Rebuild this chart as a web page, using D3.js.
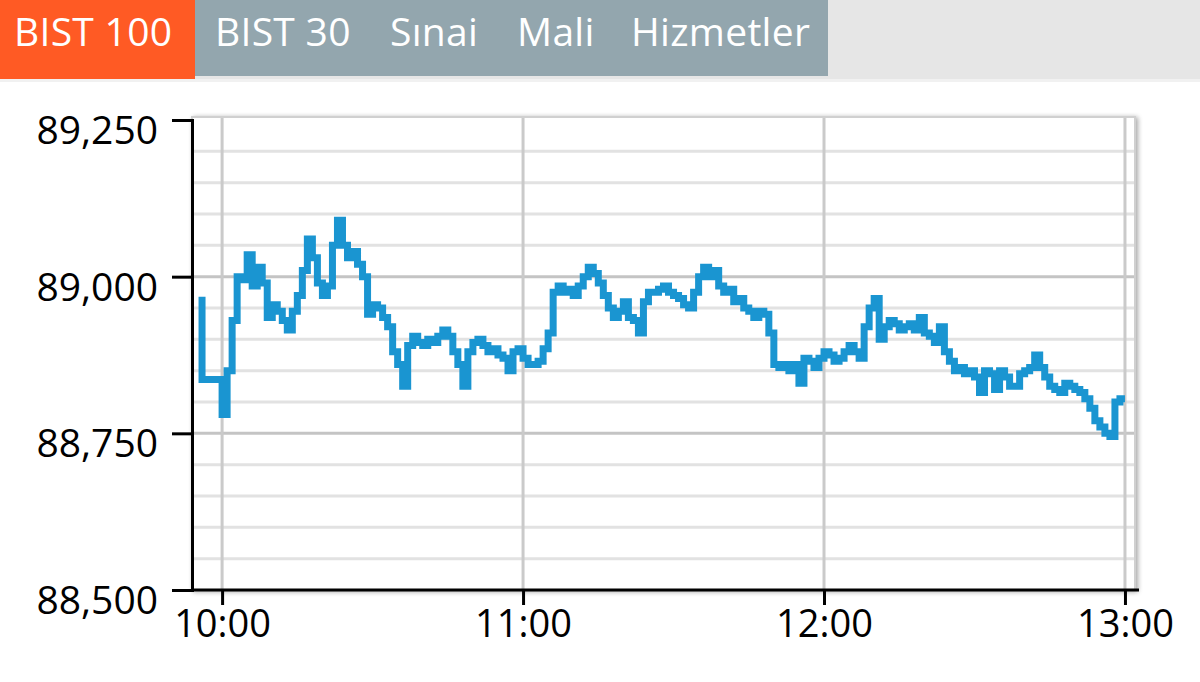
<!DOCTYPE html>
<html><head><meta charset="utf-8">
<script src="https://cdn.jsdelivr.net/npm/d3@7"></script>
<style>
html,body{margin:0;padding:0;background:#fff;}
svg{display:block;}
</style></head>
<body>
<svg id="chart" width="1200" height="682"></svg>
<script>
// ---- data ----
const tabs = ["BIST 100", "BIST 30", "Sınai", "Mali", "Hizmetler"];
const activeTab = "BIST 100";
const yTicks = [88500, 88750, 89000, 89250];
const yGrid = [88550, 88600, 88650, 88700, 88750, 88800, 88850, 88900, 88950, 89000, 89050, 89100, 89150, 89200];
const xTicks = ["10:00", "11:00", "12:00", "13:00"];
const xDomain = ["09:54", "13:02"];
const startTime = "09:56";
const values = [
  88968, 88836, 88836, 88836, 88836, 88780, 88850, 88930, 89000, 88995,
  89035, 88985, 89015, 88990, 88935, 88955, 88945, 88930, 88915, 88945,
  88970, 89010, 89060, 89030, 88990, 88970, 88985, 89050, 89090, 89050,
  89030, 89040, 89020, 89000, 88940, 88955, 88950, 88935, 88920, 88880,
  88860, 88825, 88890, 88905, 88895, 88890, 88900, 88895, 88905, 88915,
  88905, 88880, 88860, 88825, 88880, 88895, 88900, 88890, 88880, 88885,
  88875, 88870, 88850, 88880, 88885, 88870, 88860, 88860, 88865, 88885,
  88910, 88975, 88985, 88975, 88980, 88970, 88985, 89000, 89015, 89005,
  88990, 88970, 88950, 88935, 88945, 88960, 88935, 88930, 88910, 88960,
  88975, 88975, 88980, 88985, 88975, 88970, 88965, 88955, 88950, 88975,
  89000, 89015, 89000, 89010, 88985, 88975, 88980, 88960, 88965, 88950,
  88945, 88935, 88945, 88940, 88910, 88860, 88855, 88860, 88850, 88860,
  88830, 88870, 88865, 88855, 88870, 88880, 88875, 88865, 88870, 88880,
  88890, 88880, 88870, 88920, 88950, 88965, 88900, 88920, 88930, 88925,
  88915, 88920, 88925, 88915, 88935, 88910, 88905, 88895, 88920, 88880,
  88865, 88850, 88855, 88845, 88850, 88840, 88815, 88850, 88845, 88820,
  88850, 88840, 88825, 88825, 88845, 88850, 88855, 88875, 88855, 88840,
  88825, 88820, 88815, 88830, 88825, 88820, 88815, 88805, 88790, 88770,
  88760, 88750, 88745, 88800, 88805
];

// ---- layout ----
const W = 1200, H = 682;
const M = {left: 192, right: 1135, top: 120, bottom: 590};
const svg = d3.select("#chart");
const parse = d3.timeParse("%H:%M");
const t0 = parse(startTime);
const data = values.map((v, i) => ({t: d3.timeMinute.offset(t0, i), v}));

const x = d3.scaleTime().domain(xDomain.map(parse)).range([M.left, M.right]);
const y = d3.scaleLinear().domain([88500, 89250]).range([M.bottom, M.top]);

// ---- tabs ----
const tabBar = svg.append("g");
tabBar.append("rect").attr("x", 0).attr("y", 0).attr("width", W).attr("height", 79).attr("fill", "#e6e6e6");
tabBar.append("rect").attr("x", 0).attr("y", 79).attr("width", W).attr("height", 3).attr("fill", "#f1f1f1");
tabBar.append("rect").attr("x", 195).attr("y", 0).attr("width", 633).attr("height", 76).attr("fill", "#93a6ae");
tabBar.append("rect").attr("x", 0).attr("y", 0).attr("width", 195).attr("height", 79).attr("fill", "#ff5a24");
const tabX = [14, 215, 390, 517, 631];
tabBar.selectAll("text.tab").data(tabs).join("text")
  .attr("class", "tab")
  .attr("x", (d, i) => tabX[i]).attr("y", 46)
  .attr("fill", "#fff")
  .style("font-family", "'Open Sans', sans-serif")
  .style("font-size", "39px")
  .style("letter-spacing", "0.3px")
  .text(d => d);

// ---- plot frame with shadow ----
const defs = svg.append("defs");
const f = defs.append("filter").attr("id", "sh").attr("x", "-5%").attr("y", "-5%").attr("width", "110%").attr("height", "110%");
f.append("feGaussianBlur").attr("in", "SourceAlpha").attr("stdDeviation", 2.5);
f.append("feOffset").attr("dx", 2).attr("dy", 1).attr("result", "b");
f.append("feComponentTransfer").append("feFuncA").attr("type", "linear").attr("slope", 0.35);
const fm = f.append("feMerge"); fm.append("feMergeNode"); fm.append("feMergeNode").attr("in", "SourceGraphic");

svg.append("rect")
  .attr("x", M.left).attr("y", M.top - 3)
  .attr("width", M.right - M.left).attr("height", M.bottom - M.top + 3)
  .attr("fill", "#fff").attr("stroke", "#d0d0d0").attr("stroke-width", 2)
  .attr("filter", "url(#sh)");

// grid horizontal
svg.append("g").selectAll("line").data(yGrid).join("line")
  .attr("x1", M.left).attr("x2", M.right - 1)
  .attr("y1", d => y(d)).attr("y2", d => y(d))
  .attr("stroke", d => d % 250 === 0 ? "#c4c4c4" : "#e2e2e2")
  .attr("stroke-width", 3);
// grid vertical
svg.append("g").selectAll("line").data(xTicks).join("line")
  .attr("x1", d => x(parse(d))).attr("x2", d => x(parse(d)))
  .attr("y1", M.top - 2).attr("y2", M.bottom)
  .attr("stroke", "#cacaca").attr("stroke-width", 3);

// ---- line ----
const line = d3.line().x(d => x(d.t)).y(d => y(d.v)).curve(d3.curveStepBefore);
svg.append("path").datum(data)
  .attr("d", line)
  .attr("fill", "none")
  .attr("stroke", "#1a95d1")
  .attr("stroke-width", 7)
  .attr("stroke-linejoin", "miter");

// ---- axes ----
const yAxis = d3.axisLeft(y).tickValues(yTicks).tickFormat(d3.format(",")).tickSize(20).tickPadding(14);
const gy = svg.append("g").attr("transform", `translate(${M.left},0)`).call(yAxis);
gy.select(".domain").attr("stroke", "#000").attr("stroke-width", 3);
gy.selectAll(".tick line").attr("stroke", "#000").attr("stroke-width", 3);
gy.selectAll(".tick text").attr("fill", "#000").attr("dy", "0.6em")
  .style("font-family", "'Open Sans', sans-serif").style("font-size", "39px");

const xAxis = d3.axisBottom(x).tickValues(xTicks.map(parse)).tickFormat(d3.timeFormat("%H:%M")).tickSize(15).tickPadding(5);
const gx = svg.append("g").attr("transform", `translate(0,${M.bottom})`).call(xAxis);
gx.select(".domain").attr("stroke", "#000").attr("stroke-width", 3).attr("d", `M${M.left},0H${M.right+4}`);
gx.selectAll(".tick line").attr("stroke", "#000").attr("stroke-width", 3);
gx.selectAll(".tick text").attr("fill", "#000")
  .style("font-family", "'Open Sans', sans-serif").style("font-size", "38px");
</script>
</body></html>
